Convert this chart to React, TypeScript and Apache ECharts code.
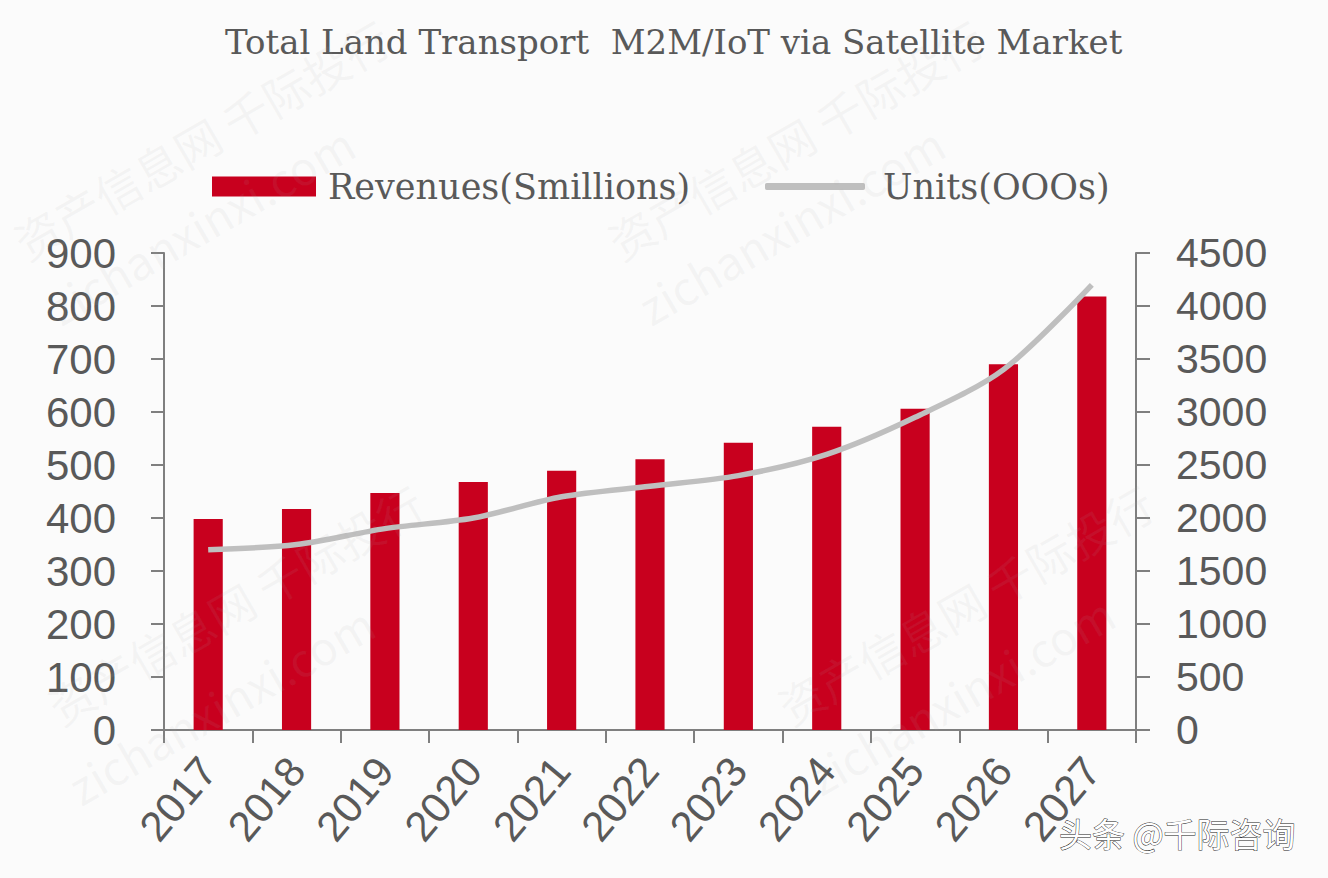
import React, { useEffect, useRef } from "react";
import * as echarts from "echarts";

const years = ["2017", "2018", "2019", "2020", "2021", "2022", "2023", "2024", "2025", "2026", "2027"];
const revenues = [398, 417, 447, 468, 489, 511, 542, 572, 606, 690, 818];
const units = [1700, 1750, 1900, 2000, 2200, 2300, 2400, 2600, 2950, 3400, 4200];
const leftTicks = { min: 0, max: 900, interval: 100 };
const rightTicks = { min: 0, max: 4500, interval: 500 };

const titleText = "Total Land Transport  M2M/IoT via Satellite Market";
const revenueName = "Revenues(Smillions)";
const unitsName = "Units(OOOs)";
const creditText = "头条 @千际咨询";
const wmCn = "资产信息网 千际投行";
const wmEn = "zichanxinxi.com";

const watermarks = [
  { x: 6, y: 225, t: wmCn },
  { x: 40, y: 290, t: wmEn },
  { x: 600, y: 225, t: wmCn },
  { x: 630, y: 290, t: wmEn },
  { x: 40, y: 690, t: wmCn },
  { x: 60, y: 770, t: wmEn },
  { x: 770, y: 690, t: wmCn },
  { x: 800, y: 760, t: wmEn },
];

export default function App() {
  const ref = useRef<HTMLDivElement>(null);
  useEffect(() => {
    document.body.style.margin = "0";
    const chart = echarts.init(ref.current!, null, { renderer: "svg" });
    const axisColor = "#7f7f7f";
    const textColor = "#595959";
    const serif = "DejaVu Serif";
    chart.setOption({
      animation: false,
      backgroundColor: "#fbfbfb",
      title: {
        text: titleText,
        left: 220,
        top: 20,
        textStyle: { fontFamily: serif, fontWeight: "normal", fontSize: 34, color: textColor },
      },
      legend: [
        {
          top: 164,
          left: 207,
          itemWidth: 104,
          itemHeight: 20,
          textStyle: { fontFamily: serif, fontSize: 35, color: textColor, padding: [0, 0, 0, 7] },
          data: [{ name: revenueName, icon: "rect" }],
        },
        {
          top: 164,
          left: 760,
          itemWidth: 100,
          itemHeight: 7,
          textStyle: { fontFamily: serif, fontSize: 35, color: textColor, padding: [0, 0, 0, 13] },
          data: [{ name: unitsName, icon: "roundRect", itemStyle: { color: "#bfbfbf" } }],
        },
      ],
      grid: { left: 164, right: 192, top: 253, bottom: 148, containLabel: false },
      xAxis: {
        type: "category",
        data: years,
        boundaryGap: true,
        axisLine: { lineStyle: { color: axisColor, width: 2 } },
        axisTick: { show: true, length: 13, alignWithLabel: false, lineStyle: { color: axisColor, width: 2 } },
        axisLabel: {
          rotate: 50,
          fontSize: 42,
          fontFamily: "Liberation Sans",
          color: textColor,
          margin: 33,
          interval: 0,
        },
      },
      yAxis: [
        {
          type: "value",
          ...leftTicks,
          position: "left",
          splitLine: { show: false },
          axisLine: { show: true, lineStyle: { color: axisColor, width: 2 } },
          axisTick: { show: true, length: 13, lineStyle: { color: axisColor, width: 2 } },
          axisLabel: { fontSize: 42, fontFamily: "Liberation Sans", color: textColor, margin: 48 },
        },
        {
          type: "value",
          ...rightTicks,
          position: "right",
          splitLine: { show: false },
          axisLine: { show: true, lineStyle: { color: axisColor, width: 2 } },
          axisTick: { show: true, length: 14, lineStyle: { color: axisColor, width: 2 } },
          axisLabel: {
            fontSize: 41,
            fontFamily: "Liberation Sans",
            color: textColor,
            margin: 40,
            formatter: (v: number) => String(v),
          },
        },
      ],
      series: [
        {
          name: revenueName,
          type: "bar",
          data: revenues,
          yAxisIndex: 0,
          barWidth: "33%",
          itemStyle: { color: "#c8001e" },
        },
        {
          name: unitsName,
          type: "line",
          data: units,
          yAxisIndex: 1,
          smooth: 0.3,
          symbol: "none",
          lineStyle: { color: "#bfbfbf", width: 5.5 },
          itemStyle: { color: "#bfbfbf" },
        },
      ],
      graphic: [
        ...watermarks.map((w) => ({
          type: "text",
          x: w.x,
          y: w.y,
          rotation: Math.PI / 6,
          z: 100,
          silent: true,
          style: {
            text: w.t,
            fontSize: 46,
            fontFamily: "Noto Sans CJK SC",
            fill: "rgba(170,170,170,0.09)",
          },
        })),
        {
          type: "text",
          x: 1059,
          y: 816,
          z: 110,
          style: {
            text: creditText,
            fontSize: 33,
            fontFamily: "Noto Sans CJK SC",
            fill: "#ffffff",
            stroke: "#222222",
            lineWidth: 0.9,
          },
        },
      ],
    });
    return () => chart.dispose();
  }, []);
  return <div ref={ref} style={{ width: 1328, height: 878 }} />;
}
